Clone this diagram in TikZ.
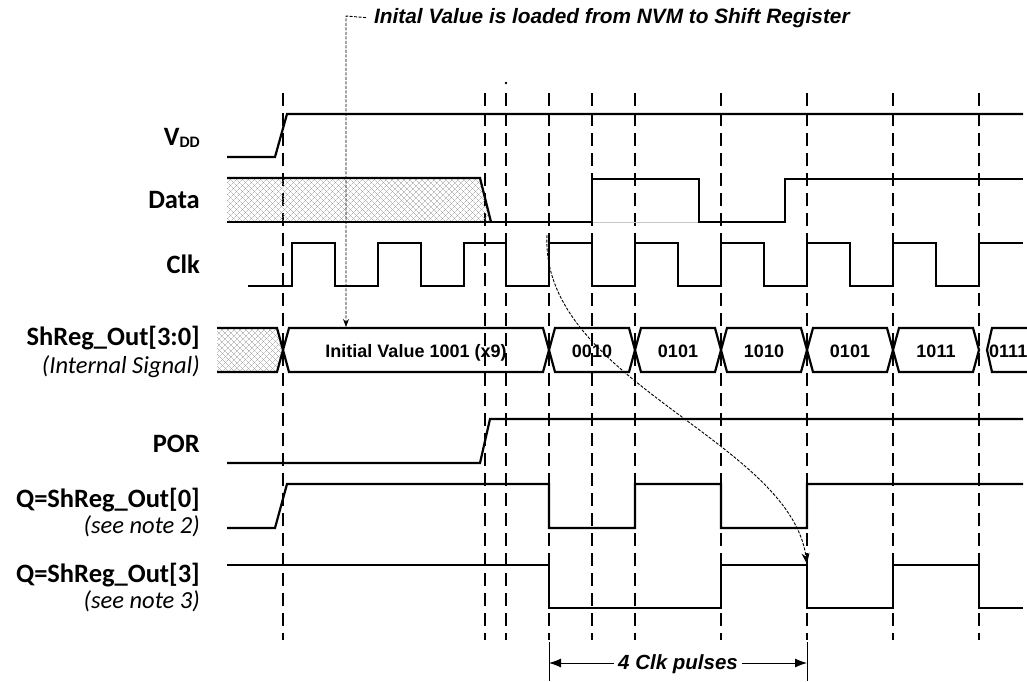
\documentclass[tikz,border=0pt]{standalone}
\usepackage{fontspec}
\newfontfamily\labfont{Carlito}
\newfontfamily\arfont{Liberation Sans}
\usetikzlibrary{patterns.meta,arrows.meta}
\tikzset{
  sig/.style={line width=2.2pt, line join=miter},
  gridline/.style={line width=2.9pt, dash pattern=on 13pt off 7pt},
  lab/.style={anchor=base east, inner sep=0pt, font=\labfont\bfseries\fontsize{26.5}{28}\selectfont},
  sublab/.style={anchor=base east, inner sep=0pt, font=\labfont\itshape\fontsize{24.5}{26}\selectfont},
  val/.style={inner sep=0pt, anchor=base, font=\arfont\bfseries\fontsize{18}{20}\selectfont},
  note/.style={inner ysep=0pt, inner xsep=8pt, font=\arfont\bfseries\itshape\fontsize{20.8}{22}\selectfont},
  hatchA/.style={pattern={Lines[angle=45,distance=4pt,line width=0.45pt]}, pattern color=gray!80},
  hatchB/.style={pattern={Lines[angle=-45,distance=4pt,line width=0.45pt]}, pattern color=gray!80},
  thinarrow/.style={line width=0.9pt, dash pattern=on 3pt off 1.5pt},
  dimline/.style={line width=0.9pt}
}
\begin{document}
\begin{tikzpicture}[x=1pt,y=-1pt]
\useasboundingbox (0,0) rectangle (1027,681);

% vertical dashed reference lines
\foreach \x in {283,485,506,549,592,635,721,807,893,979}
  \draw[gridline] (\x,93) -- (\x,640);
\fill (506,83) circle (1.3pt);

% labels
\node[lab] (vdd) at (200,145) {V\raisebox{-2pt}{\fontsize{16}{16}\selectfont DD}};
\node[lab] (data) at (200,208) {Data};
\node[lab] (clk) at (200,273) {Clk};
\node[lab] (shreg) at (200,345) {ShReg\_Out[3:0]};
\node[sublab] (internal) at (200,373) {(Internal Signal)};
\node[lab] (por) at (200,452) {POR};
\node[lab] (q0) at (200,507) {Q=ShReg\_Out[0]};
\node[sublab] (note2) at (200,533) {(see note 2)};
\node[lab] (q3) at (200,582) {Q=ShReg\_Out[3]};
\node[sublab] (note3) at (200,608) {(see note 3)};

% VDD
\draw[sig] (227,157) -- (275,157) -- (287,114) -- (1023,114);

% Data
\fill[hatchA] (227,178) -- (480,178) -- (491,222) -- (227,222) -- cycle;
\fill[hatchB] (227,178) -- (480,178) -- (491,222) -- (227,222) -- cycle;
\draw[line width=1pt, gray!45] (592,222) -- (699,222);
\draw[sig] (227,178) -- (480,178) -- (491,222);
\draw[sig] (227,222) -- (592,222) -- (592,179) -- (699,179) -- (699,222) -- (785,222) -- (785,179) -- (1023,179);

% Clk
\draw[sig] (248,286) -| (292,243) -| (335,286) -| (378,243) -| (421,286) -| (464,243) -| (506,286)
  -| (549,243) -| (592,286) -| (635,243) -| (678,286) -| (721,243) -| (764,286) -| (807,243)
  -| (850,286) -| (893,243) -| (936,286) -| (979,243) -- (1023,243);

% ShReg_Out bus
\fill[hatchA] (217,328) -- (277,328) -- (283,350) -- (277,372) -- (217,372) -- cycle;
\fill[hatchB] (217,328) -- (277,328) -- (283,350) -- (277,372) -- (217,372) -- cycle;
\draw[sig] (217,328) -- (277,328) -- (283,350) -- (277,372) -- (217,372);
\foreach \a/\b/\t/\n in {283/549/{Initial Value 1001 (x9)}/v0, 549/635/0010/v1, 635/721/0101/v2,
    721/807/1010/v3, 807/893/0101/v4, 893/979/1011/v5} {
  \draw[sig] (\a,350) -- ({\a+6},328) -- ({\b-6},328) -- (\b,350) -- ({\b-6},372) -- ({\a+6},372) -- cycle;
  \node[val] (\n) at ({(\a+\b)/2},357) {\t};
}
\draw[sig] (1035,328) -- (992,328) -- (987,350) -- (992,372) -- (1035,372);
\node[val, anchor=base west] (v6) at (989,357) {0111};

% POR
\draw[sig] (227,463) -- (480,463) -- (490,419) -- (1023,419);

% Q0
\draw[sig] (227,528) -- (275,528) -- (287,484) -- (549,484) -- (549,528) -- (635,528) -- (635,484)
  -- (721,484) -- (721,528) -- (807,528) -- (807,484) -- (1023,484);

% Q3
\draw[sig] (227,565) -- (549,565) -- (549,608) -- (721,608) -- (721,565) -- (807,565) -- (807,608)
  -- (893,608) -- (893,565) -- (979,565) -- (979,608) -- (1023,608);

% top annotation
\node[note, anchor=base west] (topnote) at (366,23) {Inital Value is loaded from NVM to Shift Register};
\coordinate (leadcorner) at (346,16);
\coordinate (leadend) at (346,327);
\draw[thinarrow, -{Stealth[length=8pt,width=6pt]}] (topnote.west) -- (leadcorner) -- (leadend);

% curved arrow from clock edge to Q3 edge
\coordinate (clkedge) at (547,235);
\coordinate (q3edge) at (807,564);
\draw[thinarrow, -{Stealth[length=11pt,width=8pt]}] (clkedge) .. controls (540,380) and (790,440) .. (q3edge);

% 4 Clk pulses dimension
\coordinate (dimL) at (549,663);
\coordinate (dimR) at (807,663);
\draw[dimline] (549,642) -- (549,681);
\draw[dimline] (807,642) -- (807,681);
\draw[dimline, {Latex[length=12pt,width=9pt]}-{Latex[length=12pt,width=9pt]}] (dimL) -- (dimR);
\node[fill=white, inner xsep=4pt, inner ysep=1pt, font=\arfont\bfseries\itshape\fontsize{20.5}{22}\selectfont] (pulses) at (678,664) {4 Clk pulses};
\end{tikzpicture}
\end{document}
